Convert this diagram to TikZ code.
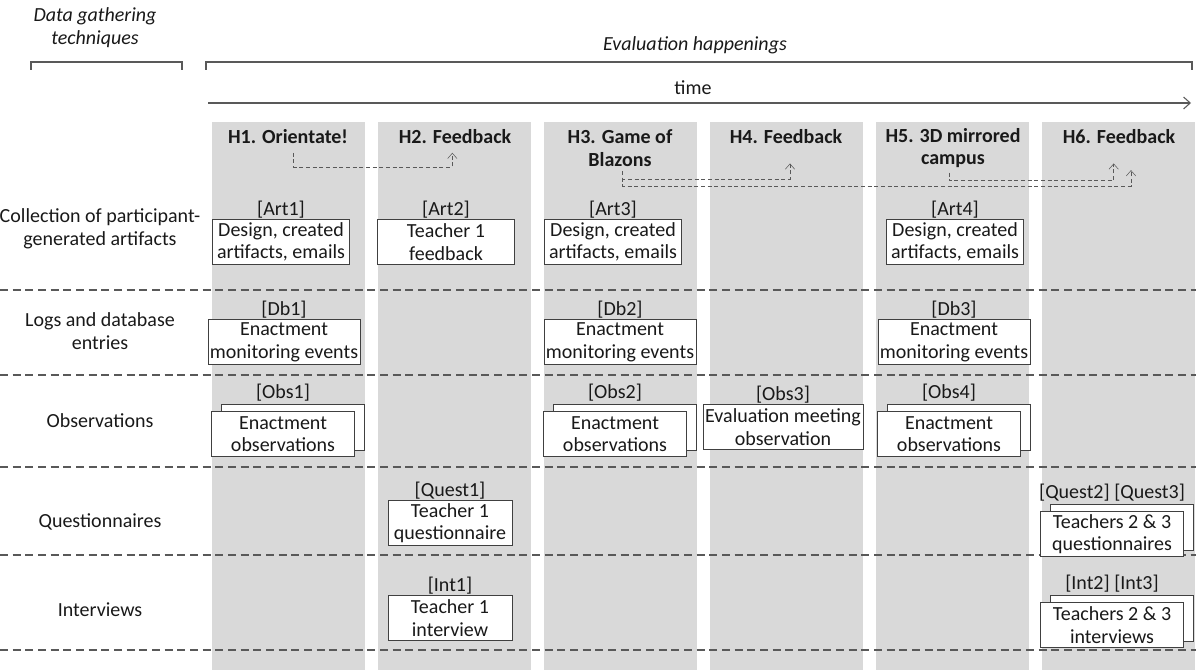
\documentclass[tikz,border=0pt]{standalone}
\usepackage{fontspec}
\setmainfont{Carlito}
\usetikzlibrary{arrows.meta,shadows,positioning}

\begin{document}
\begin{tikzpicture}[
    x = 0.75pt,
    y = -0.75pt,
    every node/.style  = {font=\fontsize{15}{17}\selectfont,
                          text=black!90},
    every label/.style = {inner sep=0.5pt},
    band/.style        = {fill=black!15},
    sepline/.style     = {draw=black!65,
                          line width=0.8pt,
                          dash pattern=on 6pt off 3.5pt},
    headstyle/.style   = {font=\fontsize{15}{17}\selectfont\bfseries,
                          align=center},
    rowstyle/.style    = {align=center},
    titlestyle/.style  = {font=\fontsize{15}{17}\selectfont\itshape,
                          align=center},
    boxstyle/.style    = {draw=black!75,
                          fill=white,
                          align=center,
                          minimum width=93pt,
                          minimum height=34pt,
                          inner xsep=1.5pt,
                          inner ysep=1.5pt},
    stackstyle/.style  = {boxstyle,
                          minimum width=107pt,
                          copy shadow={shadow xshift=7.5pt,
                                       shadow yshift=5pt,
                                       draw=black!75,
                                       fill=white}},
    flow/.style        = {draw=black!65,
                          dash pattern=on 3pt off 2pt,
                          -{Straight Barb[length=4pt,width=7pt]}},
    brace/.style       = {draw=black!65,
                          line width=0.8pt}
]
\useasboundingbox (0,0) rectangle (1196,670);

\foreach \x in {212,378,544,710,876,1042}
    \fill[band] (\x,122) rectangle ++(153,548);
\foreach \y in {290,375,467,555,650}
    \draw[sepline] (0,\y) -- (1196,\y);

\node (dgt) [titlestyle] at (95,28) {Data gathering\\techniques};
\node (evh) [titlestyle] at (695,45) {Evaluation happenings};
\node (tm) at (693,88) {time};
\draw[brace] (31,70) -- (31,62) -- (182,62) -- (182,70);
\draw[brace] (206,70) -- (206,62) -- (1192,62) -- (1192,70);
\coordinate (t0) at (208,103);
\coordinate (t1) at (1191,103);
\draw[brace, -{Straight Barb[length=5pt,width=9pt]}] (t0) -- (t1);

\node (h1) [headstyle] at (288,137) {H1. Orientate!};
\node (h2) [headstyle] at (455,137) {H2. Feedback};
\node (h3) [headstyle] at (620,148) {H3. Game of\\Blazons};
\node (h4) [headstyle] at (786,137) {H4. Feedback};
\node (h5) [headstyle] at (953,148) {H5. 3D mirrored\\campus};
\node (h6) [headstyle] at (1119,137) {H6. Feedback};

\draw[flow] ([xshift=4pt,yshift=-3pt]h1.south) -- ++(0,14)
            -| ([xshift=-2pt,yshift=-3pt]h2.south);
\draw[flow] ([xshift=2pt]h3.south) -- ++(0,8)
            -| ([xshift=3pt,yshift=-11pt]h4.south);
\draw[flow] ([xshift=2pt]h3.south) -- ++(0,15)
            -| ([xshift=9pt,yshift=-16pt]h6.south);
\draw[flow] ([xshift=-3pt]h5.south) -- ++(0,8)
            -| ([xshift=-4pt,yshift=-11pt]h6.south);

\node (r1) [rowstyle] at (100,229) {Collection of participant-\\generated artifacts};
\node (r2) [rowstyle] at (100,331) {Logs and database\\entries};
\node (r3) [rowstyle] at (100,421) {Observations};
\node (r4) [rowstyle] at (100,522) {Questionnaires};
\node (r5) [rowstyle] at (100,610) {Interviews};

\node (art1) [boxstyle, minimum width=103pt, label=above:{[Art1]}] at (281,242)
    {Design, created\\artifacts, emails};
\node (art2) [boxstyle, minimum width=103pt, label=above:{[Art2]}] at (446,242)
    {Teacher 1\\feedback};
\node (art3) [boxstyle, minimum width=103pt, label=above:{[Art3]}] at (613,242)
    {Design, created\\artifacts, emails};
\node (art4) [boxstyle, minimum width=103pt, label=above:{[Art4]}] at (955,242)
    {Design, created\\artifacts, emails};

\node (db1) [boxstyle, label=above:{[Db1]}] at (284,342) {Enactment\\monitoring events};
\node (db2) [boxstyle, label=above:{[Db2]}] at (620,342) {Enactment\\monitoring events};
\node (db3) [boxstyle, label=above:{[Db3]}] at (954,342) {Enactment\\monitoring events};

\node (obs1) [stackstyle, label={[yshift=7pt]above:{[Obs1]}}] at (283,434)
    {Enactment\\observations};
\node (obs2) [stackstyle, label={[yshift=7pt]above:{[Obs2]}}] at (615,434)
    {Enactment\\observations};
\node (obs3) [boxstyle, label=above:{[Obs3]}] at (783,427) {Evaluation meeting\\observation};
\node (obs4) [stackstyle, label={[yshift=7pt]above:{[Obs4]}}] at (949,434)
    {Enactment\\observations};

\node (q1) [boxstyle, label=above:{[Quest1]}] at (450,523) {Teacher 1\\questionnaire};
\node (q23) [stackstyle, label={[yshift=7pt]above:{[Quest2] [Quest3]}}] at (1112,534)
    {Teachers 2 \& 3\\questionnaires};

\node (int1) [boxstyle, label=above:{[Int1]}] at (450,618) {Teacher 1\\interview};
\node (int23) [stackstyle, label={[yshift=7pt]above:{[Int2] [Int3]}}] at (1112,625)
    {Teachers 2 \& 3\\interviews};

\end{tikzpicture}
\end{document}
